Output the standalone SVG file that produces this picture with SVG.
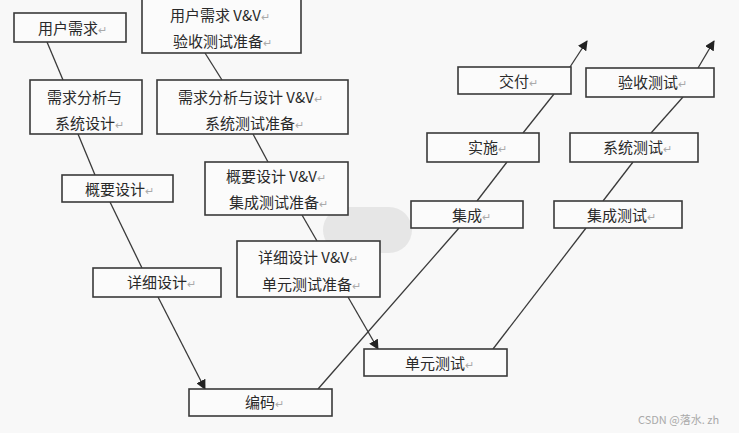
<svg xmlns="http://www.w3.org/2000/svg" width="739" height="433" viewBox="0 0 739 433">
<defs>
<marker id="ah" viewBox="0 0 10 10" refX="9" refY="5" markerWidth="10" markerHeight="10" markerUnits="userSpaceOnUse" orient="auto">
<path d="M0,0 L10,5 L0,10 z" fill="#222"/>
</marker>
<style>
.b{fill:#fbfbfb;stroke:#3a3a3a;stroke-width:1.6}
.t{font-family:"Noto Sans CJK SC","Noto Sans",sans-serif;font-size:15px;fill:#2a2a2a}
.r{fill:#aaa;font-size:11px}
.c{stroke:#3a3a3a;stroke-width:1.3;fill:none}
.a{marker-end:url(#ah)}
</style>
</defs>
<rect width="739" height="433" fill="#f8f8f8"/>
<rect x="323" y="207" width="89" height="46" rx="23" fill="#e6e6e6"/>
<g id="connectors">
<line class="c" x1="47" y1="42" x2="63" y2="80"/>
<line class="c" x1="78" y1="134" x2="95" y2="175"/>
<line class="c" x1="110" y1="202" x2="142" y2="268"/>
<line class="c a" x1="158" y1="297" x2="205" y2="389"/>
<line class="c" x1="205" y1="53" x2="222" y2="80"/>
<line class="c" x1="253" y1="134" x2="268" y2="162"/>
<line class="c" x1="302" y1="215" x2="317" y2="241"/>
<line class="c a" x1="348" y1="297" x2="378" y2="349"/>
<line class="c" x1="318" y1="389" x2="459" y2="228"/>
<line class="c" x1="477" y1="201" x2="507" y2="162"/>
<line class="c" x1="523" y1="133" x2="554" y2="94"/>
<line class="c a" x1="570" y1="67" x2="587" y2="41"/>
<line class="c" x1="493" y1="349" x2="586" y2="228"/>
<line class="c" x1="603" y1="201" x2="633" y2="162"/>
<line class="c" x1="651" y1="133" x2="683" y2="97"/>
<line class="c a" x1="698" y1="68" x2="714" y2="41"/>
</g>
<g id="n1"><rect class="b" x="14" y="13" width="112" height="29"/><text class="t" x="38" y="34">用户需求<tspan class="r">↵</tspan></text></g>
<g id="n2"><rect class="b" x="142" y="-1" width="159" height="54"/><text class="t" x="170" y="21">用户需求 V&amp;V<tspan class="r">↵</tspan></text><text class="t" x="173" y="47">验收测试准备<tspan class="r">↵</tspan></text></g>
<g id="n3"><rect class="b" x="30" y="80" width="112" height="54"/><text class="t" x="47" y="103">需求分析与</text><text class="t" x="55" y="129">系统设计<tspan class="r">↵</tspan></text></g>
<g id="n4"><rect class="b" x="157" y="80" width="191" height="54"/><text class="t" x="178" y="103">需求分析与设计 V&amp;V<tspan class="r">↵</tspan></text><text class="t" x="205" y="129">系统测试准备<tspan class="r">↵</tspan></text></g>
<g id="n5"><rect class="b" x="62" y="175" width="111" height="27"/><text class="t" x="85" y="195">概要设计<tspan class="r">↵</tspan></text></g>
<g id="n6"><rect class="b" x="205" y="162" width="143" height="53"/><text class="t" x="226" y="182">概要设计 V&amp;V<tspan class="r">↵</tspan></text><text class="t" x="229" y="208">集成测试准备<tspan class="r">↵</tspan></text></g>
<g id="n7"><rect class="b" x="93" y="268" width="128" height="29"/><text class="t" x="127" y="288">详细设计<tspan class="r">↵</tspan></text></g>
<g id="n8"><rect class="b" x="237" y="241" width="143" height="56"/><text class="t" x="258" y="263">详细设计 V&amp;V<tspan class="r">↵</tspan></text><text class="t" x="262" y="290">单元测试准备<tspan class="r">↵</tspan></text></g>
<g id="n9"><rect class="b" x="189" y="389" width="143" height="27"/><text class="t" x="245" y="408">编码<tspan class="r">↵</tspan></text></g>
<g id="n10"><rect class="b" x="364" y="349" width="143" height="27"/><text class="t" x="405" y="369">单元测试<tspan class="r">↵</tspan></text></g>
<g id="n11"><rect class="b" x="411" y="201" width="112" height="27"/><text class="t" x="452" y="221">集成<tspan class="r">↵</tspan></text></g>
<g id="n12"><rect class="b" x="554" y="201" width="128" height="27"/><text class="t" x="587" y="221">集成测试<tspan class="r">↵</tspan></text></g>
<g id="n13"><rect class="b" x="427" y="133" width="112" height="29"/><text class="t" x="468" y="153">实施<tspan class="r">↵</tspan></text></g>
<g id="n14"><rect class="b" x="570" y="133" width="128" height="29"/><text class="t" x="603" y="153">系统测试<tspan class="r">↵</tspan></text></g>
<g id="n15"><rect class="b" x="458" y="67" width="113" height="27"/><text class="t" x="499" y="87">交付<tspan class="r">↵</tspan></text></g>
<g id="n16"><rect class="b" x="586" y="68" width="128" height="29"/><text class="t" x="618" y="88">验收测试<tspan class="r">↵</tspan></text></g>
<text x="638" y="424" font-family="'Noto Sans CJK SC','Noto Sans',sans-serif" font-size="11" fill="#aaa">CSDN @落水. zh</text>
</svg>
